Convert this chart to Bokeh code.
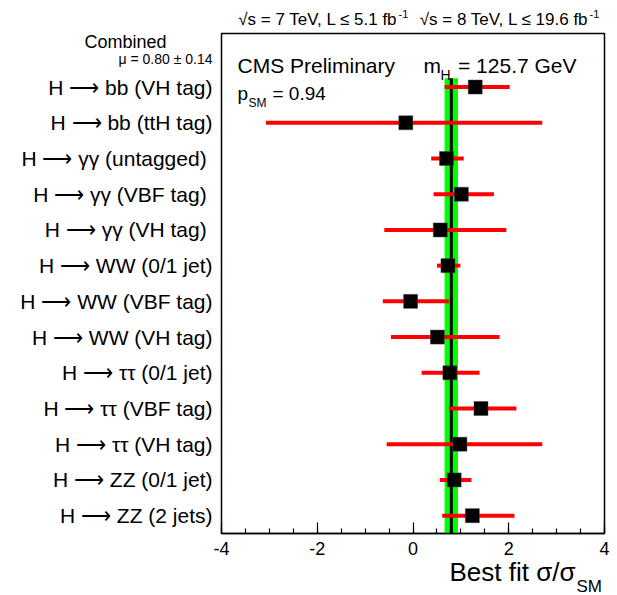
from bokeh.plotting import figure
from bokeh.models import Label, Title, FixedTicker, Range1d
from bokeh.embed import file_html
from bokeh.resources import INLINE

# Signal-strength fits per channel (best fit and 68% interval bounds)
channels = [
    "H ⟶ bb (VH tag)",
    "H ⟶ bb (ttH tag)",
    "H ⟶ γγ  (untagged)",
    "H ⟶ γγ  (VBF tag)",
    "H ⟶ γγ  (VH tag)",
    "H ⟶ WW (0/1 jet)",
    "H ⟶ WW (VBF tag)",
    "H ⟶ WW (VH tag)",
    "H ⟶ ττ (0/1 jet)",
    "H ⟶ ττ (VBF tag)",
    "H ⟶ ττ (VH tag)",
    "H ⟶ ZZ (0/1 jet)",
    "H ⟶ ZZ (2 jets)",
]
best_fit = [1.30, -0.15, 0.70, 1.01, 0.57, 0.73, -0.05, 0.51, 0.77, 1.42, 0.98, 0.86, 1.24]
low = [0.66, -3.07, 0.38, 0.43, -0.60, 0.50, -0.63, -0.46, 0.18, 0.75, -0.55, 0.56, 0.61]
high = [2.02, 2.70, 1.06, 1.69, 1.95, 0.99, 0.75, 1.81, 1.39, 2.16, 2.70, 1.22, 2.12]

combined_mu = 0.80
combined_err = 0.14

x_ticks = [-4, -2, 0, 2, 4]
x_tick_labels = ["-4", "-2", "0", "2", "4"]

# Frame geometry (canvas pixels)
W, H = 617, 595
FL, FR, FT, FB = 221, 604, 33, 533
XMIN, XMAX, YMIN, YMAX = -4.0, 4.0, 0.0, 14.0
BAND_TOP = 12.75
FONT = "Liberation Sans"


def dx(px):
    return XMIN + (px - FL) / (FR - FL) * (XMAX - XMIN)


def dy(py):
    return YMIN + (FB - py) / (FB - FT) * (YMAX - YMIN)


n = len(channels)
rows = [n - 0.5 - i for i in range(n)]

p = figure(
    width=W, height=H,
    x_range=Range1d(XMIN, XMAX), y_range=Range1d(YMIN, YMAX),
    output_backend="svg", toolbar_location=None,
    min_border_left=FL, min_border_right=W - FR,
    min_border_top=FT, min_border_bottom=H - FB,
)
p.background_fill_color = "white"
p.border_fill_color = "white"
p.outline_line_color = "black"
p.outline_line_width = 1.5
p.xgrid.visible = False
p.ygrid.visible = False

# Combined result band and central line
p.quad(left=[combined_mu - combined_err], right=[combined_mu + combined_err],
       bottom=[YMIN], top=[BAND_TOP], fill_color="#00ff00", line_color=None)
p.segment(x0=[combined_mu], y0=[YMIN], x1=[combined_mu], y1=[BAND_TOP],
          line_color="black", line_width=3)

# Per-channel intervals and best-fit points
p.segment(x0=low, y0=rows, x1=high, y1=rows, line_color="#ff0000", line_width=4)
p.scatter(x=best_fit, y=rows, marker="square", size=14,
          fill_color="black", line_color="#444444", line_width=0.5)

# x axis: ticks pointing into the frame
xa = p.xaxis[0]
xa.ticker = FixedTicker(ticks=x_ticks, minor_ticks=[XMIN + 0.5 * i for i in range(17)])
xa.major_label_overrides = {t: s for t, s in zip(x_ticks, x_tick_labels)}
xa.major_tick_in = 11
xa.major_tick_out = 0
xa.minor_tick_in = 5
xa.minor_tick_out = 0
xa.axis_line_color = "black"
xa.axis_line_width = 1.5
xa.major_tick_line_width = 1.2
xa.minor_tick_line_width = 1.2
xa.major_label_text_font = FONT
xa.major_label_text_font_size = "18px"
xa.major_label_text_color = "black"
xa.major_label_standoff = 8

# y axis: channel names
ya = p.yaxis[0]
ya.ticker = FixedTicker(ticks=rows)
ya.major_label_overrides = {r: c for r, c in zip(rows, channels)}
ya.axis_line_color = None
ya.major_tick_line_color = None
ya.minor_tick_line_color = None
ya.major_tick_in = 0
ya.major_tick_out = 0
ya.minor_tick_in = 0
ya.minor_tick_out = 0
ya.major_label_standoff = 9
ya.major_label_text_font = FONT
ya.major_label_text_font_size = "21px"
ya.major_label_text_color = "black"


def inner_text(px, py, text, size, align="left"):
    """Text inside the frame, placed through the data scales."""
    p.add_layout(Label(x=dx(px), y=dy(py), text=text, text_font=FONT,
                       text_font_size=size, text_color="black",
                       text_align=align, text_baseline="alphabetic"))


def outer_text(px, baseline, text, size, align="left"):
    """Text outside the frame: a zero-height title slot anchored at the
    frame's top edge, shifted to its place by the title standoff."""
    asc, desc = 0.905 * size, 0.212 * size
    h = asc + desc
    top, bottom = baseline - asc, baseline + desc
    if top < FT - 2 - h / 2:
        va, s = "top", 2 * (top - FT)
    else:
        va, s = "bottom", 2 * (FT - bottom)
    off = px - FL if align == "left" else FR - px
    p.add_layout(Title(text=text, align=align, vertical_align=va,
                       offset=round(off), standoff=int(round(s)),
                       text_font=FONT, text_font_size=f"{size}px",
                       text_font_style="normal", text_color="black"), "above")


# Header: energies and luminosities
outer_text(397, 25, "√s = 7 TeV, L ≤ 5.1 fb", 17, "right")
outer_text(398, 19, "-1", 11)
outer_text(588, 25, "√s = 8 TeV, L ≤ 19.6 fb", 17, "right")
outer_text(589, 19, "-1", 11)

# Combined result next to the channel list
outer_text(166, 47, "Combined", 18, "right")
outer_text(212, 63, "μ = 0.80 ± 0.14", 14, "right")

# x-axis title
outer_text(575, 581, "Best fit σ/σ", 26, "right")
outer_text(576, 592, "SM", 17)

# In-frame annotations
inner_text(237, 65, "CMS Preliminary", "21px")
inner_text(423, 65, "m", "21px")
inner_text(440, 74, "H", "14px")
inner_text(576, 65, "= 125.7 GeV", "21px", "right")
inner_text(237, 93, "p", "19px")
inner_text(248, 102, "SM", "12px")
inner_text(272, 93, "= 0.94", "19px")

open("out.html", "w").write(file_html(p, INLINE))
